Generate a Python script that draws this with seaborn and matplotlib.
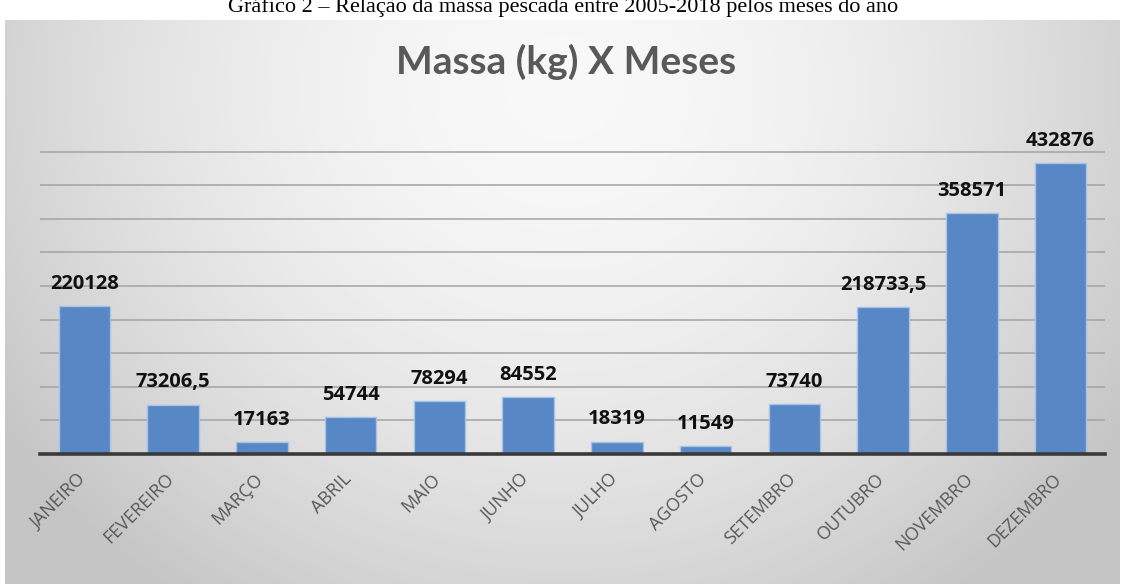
import numpy as np
import pandas as pd
import matplotlib
matplotlib.use("Agg")
import matplotlib.pyplot as plt
import matplotlib.transforms as mtransforms
import seaborn as sns

# data
meses = ["JANEIRO", "FEVEREIRO", "MARÇO", "ABRIL", "MAIO", "JUNHO",
         "JULHO", "AGOSTO", "SETEMBRO", "OUTUBRO", "NOVEMBRO", "DEZEMBRO"]
massa = [220128, 73206.5, 17163, 54744, 78294, 84552,
         18319, 11549, 73740, 218733.5, 358571, 432876]

titulo = "Massa (kg) X Meses"
legenda = "Gráfico 2 – Relação da massa pescada entre 2005-2018 pelos meses do ano"


def fmt(v):
    if float(v).is_integer():
        return f"{int(v)}"
    return f"{v}".replace(".", ",")


df = pd.DataFrame({"mes": meses, "massa": massa})

sns.set_style("white")
plt.rcParams["font.family"] = ["Open Sans", "DejaVu Sans"]

W, H = 1127, 584
fig = plt.figure(figsize=(W / 100, H / 100), dpi=100)
fig.patch.set_facecolor("white")

# radial gray background of the chart area
bg = fig.add_axes([5 / W, 0, 1115 / W, 564 / H])
gx, gy = np.meshgrid(np.linspace(0, 1, 400), np.linspace(0, 1, 200))
d = np.sqrt(((gx - 0.5) / 0.6) ** 2 + ((gy - 0.12) / 1.1) ** 2)
shade = 0.975 - 0.2 * np.clip(d, 0, 1) ** 1.8
bg.imshow(np.dstack([shade] * 3), aspect="auto", extent=[0, 1, 1, 0])
bg.set_axis_off()

ax = fig.add_axes([40 / W, 130 / H, 1065 / W, 336 / H])
ax.patch.set_alpha(0)
sns.barplot(data=df, x="mes", y="massa", color="#5787c5", saturation=1,
            width=0.58, edgecolor="#a6c2e6", linewidth=1, ax=ax)
ax.set_xlim(-0.5, 11.5)
ax.set_ylim(0, 500000)
ax.set_yticks(np.arange(50000, 500000, 50000))
ax.yaxis.grid(True, color="#a3a3a3", lw=1.1)
ax.set_axisbelow(True)
ax.tick_params(axis="y", left=False, labelleft=False)
ax.tick_params(axis="x", bottom=False, pad=8)
for s in ["top", "right", "left"]:
    ax.spines[s].set_visible(False)
ax.spines["bottom"].set_color("#3a3a3a")
ax.spines["bottom"].set_linewidth(2.6)
ax.set_xlabel("")
ax.set_ylabel("")
ax.set_xticks(range(len(meses)))
ax.set_xticklabels(meses, rotation=45, ha="right", rotation_mode="anchor",
                   fontsize=13, color="#595959")
shift = mtransforms.ScaledTranslation(-8 / 100, 0, fig.dpi_scale_trans)
for lab in ax.get_xticklabels():
    lab.set_transform(lab.get_transform() + shift)

ax.bar_label(ax.containers[0], labels=[fmt(v) for v in massa], padding=9,
             fontsize=14.5, fontweight="bold", color="#111111")

fig.text(0.502, (H - 62) / H, titulo, ha="center", va="center",
         fontsize=28, fontweight="bold", family=["Lato", "DejaVu Sans"],
         color="#595959")
# the caption is cut at the top edge in the source image
fig.text(0.5, (H - 12) / H, legenda, ha="center", va="baseline",
         fontsize=16, family=["Liberation Serif"], color="black")

fig.savefig("out.png", dpi=100)
